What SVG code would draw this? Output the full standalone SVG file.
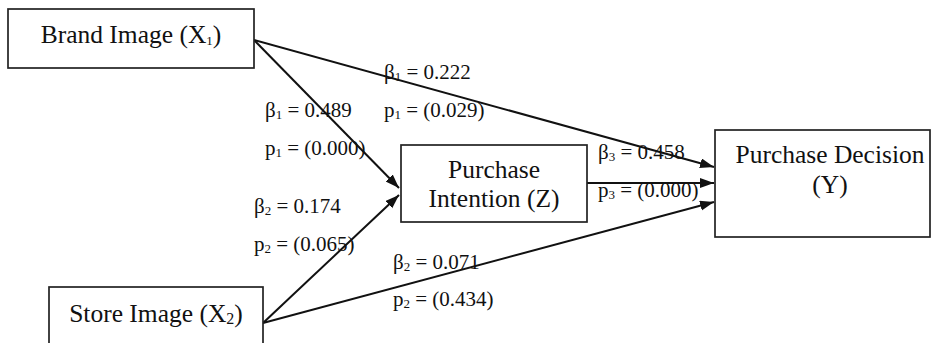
<svg xmlns="http://www.w3.org/2000/svg" width="932" height="343" viewBox="0 0 932 343">
<style>
.box{fill:#fff;stroke:#222;stroke-width:1.7}
.nt{font-family:"Liberation Serif","Times New Roman",serif;font-size:25.5px;fill:#111}
.lb{font-family:"Liberation Serif","Times New Roman",serif;font-size:21px;fill:#111}
.sub{font-size:13px}
.edge{stroke:#111;stroke-width:2;fill:none;marker-end:url(#arr)}
</style>
<defs>
<marker id="arr" markerUnits="userSpaceOnUse" markerWidth="15" markerHeight="11" refX="14" refY="5" orient="auto">
<path d="M0,0 L14,5 L0,10 z" fill="#111"/>
</marker>
</defs>
<rect width="932" height="343" fill="#fff"/>
<g id="edges">
<line class="edge" x1="254" y1="40" x2="714" y2="167"/>
<line class="edge" x1="254" y1="40" x2="399" y2="188"/>
<line class="edge" x1="263" y1="323" x2="399" y2="195"/>
<line class="edge" x1="263" y1="323" x2="714" y2="202"/>
<line class="edge" x1="587" y1="183" x2="714" y2="183"/>
</g>
<g id="brand">
<rect class="box" x="8" y="9" width="246" height="59"/>
<text class="nt" x="131" y="43" text-anchor="middle">Brand Image (X<tspan class="sub" dy="2" font-size="16">1</tspan><tspan dy="-2">)</tspan></text>
</g>
<g id="store">
<rect class="box" x="49" y="287" width="214" height="80"/>
<text class="nt" x="156" y="322" text-anchor="middle">Store Image (X<tspan dy="2" font-size="16">2</tspan><tspan dy="-2">)</tspan></text>
</g>
<g id="intention">
<rect class="box" x="401" y="145" width="186" height="77"/>
<text class="nt" x="494" y="178" text-anchor="middle">Purchase</text>
<text class="nt" x="494" y="207" text-anchor="middle">Intention (Z)</text>
</g>
<g id="decision">
<rect class="box" x="715" y="130" width="215" height="107"/>
<text class="nt" x="830" y="163" text-anchor="middle">Purchase Decision</text>
<text class="nt" x="830" y="193" text-anchor="middle">(Y)</text>
</g>
<g id="labels">
<text class="lb" x="384" y="79">β<tspan dy="2" font-size="13">1</tspan><tspan dy="-2"> = 0.222</tspan></text>
<text class="lb" x="384" y="117">p<tspan dy="2" font-size="13">1</tspan><tspan dy="-2"> = (0.029)</tspan></text>
<text class="lb" x="265" y="117">β<tspan dy="2" font-size="13">1</tspan><tspan dy="-2"> = 0.489</tspan></text>
<text class="lb" x="265" y="155">p<tspan dy="2" font-size="13">1</tspan><tspan dy="-2"> = (0.000)</tspan></text>
<text class="lb" x="254" y="213">β<tspan dy="2" font-size="13">2</tspan><tspan dy="-2"> = 0.174</tspan></text>
<text class="lb" x="254" y="251">p<tspan dy="2" font-size="13">2</tspan><tspan dy="-2"> = (0.065)</tspan></text>
<text class="lb" x="393" y="269">β<tspan dy="2" font-size="13">2</tspan><tspan dy="-2"> = 0.071</tspan></text>
<text class="lb" x="393" y="306">p<tspan dy="2" font-size="13">2</tspan><tspan dy="-2"> = (0.434)</tspan></text>
<text class="lb" x="598" y="159">β<tspan dy="2" font-size="13">3</tspan><tspan dy="-2"> = 0.458</tspan></text>
<text class="lb" x="598" y="197">p<tspan dy="2" font-size="13">3</tspan><tspan dy="-2"> = (0.000)</tspan></text>
</g>
</svg>
